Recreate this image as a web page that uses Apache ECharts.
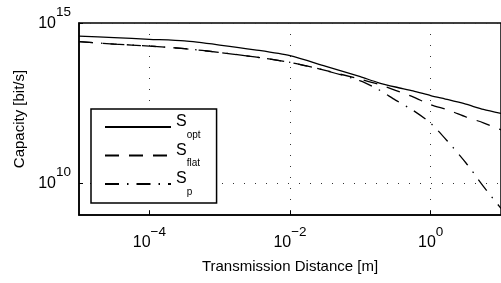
<!DOCTYPE html>
<html>
<head>
<meta charset="utf-8">
<script src="https://cdn.jsdelivr.net/npm/echarts@6/dist/echarts.min.js"></script>
<style>
html, body { margin: 0; padding: 0; background: #fff; }
#main { width: 501px; height: 283px; }
</style>
</head>
<body>
<div id="main"></div>
<script>
// capacity vs. distance
var distance = [1e-5, 3.16e-5, 1e-4, 3.16e-4, 1e-3, 3.16e-3, 1e-2, 3.16e-2, 0.1,
    0.178, 0.316, 0.562, 1, 1.78, 3.16, 5.62, 10];
var sOpt = [3.9e14, 3.5e14, 3.1e14, 2.75e14, 2.05e14, 1.45e14, 9.5e13, 4.5e13, 2.1e13,
    1.38e13, 1.0e13, 7.6e12, 5.4e12, 4.0e12, 2.9e12, 2.0e12, 1.5e12];
var sFlat = [2.6e14, 2.2e14, 1.9e14, 1.58e14, 1.2e14, 8.7e13, 5.9e13, 3.3e13, 1.75e13,
    1.23e13, 7.9e12, 4.9e12, 2.8e12, 1.9e12, 1.17e12, 7.6e11, 4.6e11];
var sP = [2.6e14, 2.2e14, 1.9e14, 1.58e14, 1.2e14, 8.7e13, 5.9e13, 3.3e13, 1.55e13,
    8.5e12, 3.9e12, 1.86e12, 7.4e11, 1.9e11, 4.3e10, 7.9e9, 1.6e9];

var xTicks = [1e-4, 1e-2, 1];
// top tick a hair under 1e15 so the log rounding keeps it inside the axis
var yTicks = [1e10, 9.9999e14];
var legendNames = { 'S_opt': 'opt', 'S_flat': 'flat', 'S_p': 'p' };

var font = "'Liberation Sans', Arial, Helvetica, sans-serif";

function pairs(ys) {
    return distance.map(function (d, i) { return [d, ys[i]]; });
}
function powLabel(v) {
    var e = Math.round(Math.log10(v));
    return '{b|10}{e|' + (e < 0 ? '\u2212' + (-e) : e) + '}';
}

var labelRich = {
    b: { fontSize: 16, fontFamily: font, color: '#000', verticalAlign: 'bottom', lineHeight: 26 },
    e: { fontSize: 13.5, fontFamily: font, color: '#000', verticalAlign: 'top', lineHeight: 26 }
};

var dom = document.getElementById('main');
var myChart = echarts.init(dom, null, { renderer: 'canvas' });

var option = {
    animation: false,
    backgroundColor: '#fff',
    textStyle: { fontFamily: font },
    grid: {
        left: 79, top: 23, right: -2, bottom: 68,
        show: true, borderColor: '#000', borderWidth: 1.5, backgroundColor: '#fff'
    },
    legend: {
        orient: 'vertical',
        left: 91, top: 109,
        padding: [5, 16, 6, 13],
        itemGap: 2.5,
        itemWidth: 66,
        itemHeight: 14,
        backgroundColor: '#fff',
        borderColor: '#000',
        borderWidth: 1.5,
        borderRadius: 0,
        itemStyle: { opacity: 0, color: 'rgba(0,0,0,0)', borderWidth: 0 },
        data: ['S_opt', 'S_flat', 'S_p'],
        formatter: function (name) {
            return '{s|S}{sub|' + legendNames[name] + '}';
        },
        textStyle: {
            rich: {
                s: { fontSize: 16, fontFamily: font, color: '#000', verticalAlign: 'top', lineHeight: 26 },
                sub: { fontSize: 10, fontFamily: font, color: '#000', verticalAlign: 'bottom', lineHeight: 26 }
            }
        }
    },
    xAxis: {
        type: 'log',
        logBase: 10,
        min: 1e-5,
        max: 10,
        name: 'Transmission Distance [m]',
        nameLocation: 'middle',
        nameGap: 44,
        nameTextStyle: { fontSize: 15, color: '#000', fontFamily: font },
        axisLine: { lineStyle: { color: '#000', width: 1.5 } },
        axisTick: { inside: true, length: 4, customValues: xTicks, lineStyle: { color: '#000' } },
        minorTick: { show: false },
        axisLabel: { customValues: xTicks, margin: 10, formatter: powLabel, rich: labelRich },
        splitLine: { show: true, lineStyle: { color: '#333', width: 1, type: [1, 10] } }
    },
    yAxis: {
        type: 'log',
        logBase: 10,
        min: 1e9,
        max: 1e15,
        name: 'Capacity [bit/s]',
        nameLocation: 'middle',
        nameGap: 52,
        nameTextStyle: { fontSize: 15, color: '#000', fontFamily: font },
        axisLine: { lineStyle: { color: '#000', width: 1.5 } },
        axisTick: { inside: true, length: 4, customValues: yTicks, lineStyle: { color: '#000' } },
        minorTick: { show: false },
        axisLabel: {
            customValues: yTicks, margin: 8, padding: [0, 0, 9, 0],
            showMinLabel: true, showMaxLabel: true, hideOverlap: false,
            formatter: powLabel, rich: labelRich
        },
        splitLine: { show: true, lineStyle: { color: '#333', width: 1, type: [1, 10] } }
    },
    series: [{
        name: 'S_opt',
        type: 'line',
        data: pairs(sOpt),
        symbol: 'none',
        smooth: 0.25,
        color: '#000',
        lineStyle: { color: '#000', width: 1.3, type: 'solid' }
    }, {
        name: 'S_flat',
        type: 'line',
        data: pairs(sFlat),
        symbol: 'none',
        smooth: 0.25,
        color: '#000',
        lineStyle: { color: '#000', width: 1.3, type: [14, 10] }
    }, {
        name: 'S_p',
        type: 'line',
        data: pairs(sP),
        symbol: 'none',
        smooth: 0.25,
        color: '#000',
        lineStyle: { color: '#000', width: 1.3, type: [14, 8, 1.5, 8] }
    }]
};
myChart.setOption(option);
</script>
</body>
</html>
